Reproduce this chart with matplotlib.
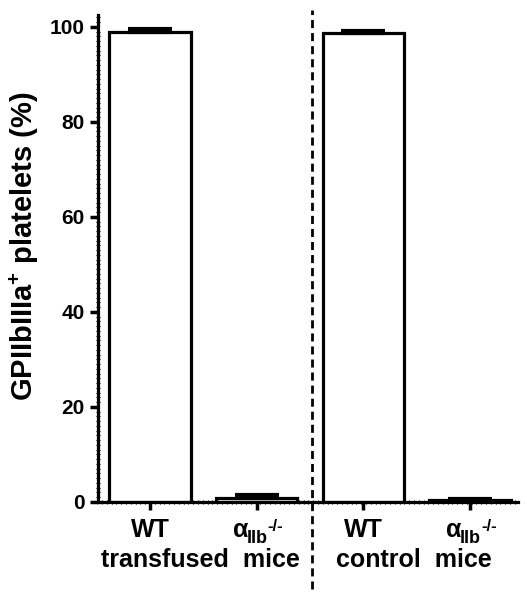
import matplotlib.pyplot as plt
from matplotlib.ticker import MultipleLocator

plt.rcParams['font.family'] = ['Liberation Sans', 'DejaVu Sans']
plt.rcParams['font.weight'] = 'bold'
plt.rcParams['mathtext.fontset'] = 'custom'
plt.rcParams['mathtext.rm'] = 'Liberation Sans:bold'
plt.rcParams['mathtext.it'] = 'Liberation Sans:bold'
plt.rcParams['mathtext.bf'] = 'Liberation Sans:bold'

groups = ['WT', 'α', 'WT', 'α']
group_sub = ['', 'IIb', '', 'IIb']
group_sup = ['', '-/-', '', '-/-']
second_line = ['transfused  mice', 'control  mice']
means = [98.9, 0.9, 98.7, 0.4]
sems = [0.6, 0.5, 0.4, 0.2]

fig = plt.figure(figsize=(5.27, 5.96), dpi=100)
ax = fig.add_axes([0.186, 0.158, 0.797, 0.817])

x = list(range(len(means)))
ax.bar(x, means, width=0.76, color='white', edgecolor='black', linewidth=2.3, zorder=2)
ax.errorbar(x, means, yerr=[[0] * len(sems), sems], fmt='none', ecolor='black',
            elinewidth=2.5, capsize=15.5, capthick=3, zorder=3)

ax.set_xlim(-0.487, 3.45)
ax.set_ylim(0, 102.5)
ax.set_yticks(range(0, 101, 20))
ax.set_xticks(x)
ax.set_xticklabels([])
ax.tick_params(axis='y', labelsize=15, width=2.5, length=6, direction='out')
ax.tick_params(axis='x', width=2.5, length=6, direction='out')
ax.yaxis.set_minor_locator(MultipleLocator(1))
ax.xaxis.set_minor_locator(MultipleLocator(0.045))
ax.tick_params(which='minor', length=2.5, width=0.8, direction='inout')
for lab in ax.get_yticklabels():
    lab.set_fontweight('bold')

for side in ['top', 'right']:
    ax.spines[side].set_visible(False)
for side in ['left', 'bottom']:
    ax.spines[side].set_linewidth(2.3)

fig.text(0.047, 0.587, r'GPIIbIIIa$^{+}$ platelets (%)', rotation=90, fontsize=21,
         fontweight='bold', ha='center', va='center')

# first line of category labels (offsets in points)
base = -25.2
xc = ('data', 'axes fraction')
for i, g in enumerate(groups):
    if not group_sub[i]:
        ax.annotate(g, xy=(i, 0), xycoords=xc, xytext=(0, base), textcoords='offset points',
                    ha='center', va='baseline', fontsize=18, fontweight='bold')
    else:
        ax.annotate(g, xy=(i, 0), xycoords=xc, xytext=(-17.3, base), textcoords='offset points',
                    ha='left', va='baseline', fontsize=18, fontweight='bold')
        ax.annotate(group_sub[i], xy=(i, 0), xycoords=xc, xytext=(-7.2, base - 4.3),
                    textcoords='offset points', ha='left', va='baseline', fontsize=13,
                    fontweight='bold')
        ax.annotate(group_sup[i], xy=(i, 0), xycoords=xc, xytext=(7.9, base + 4.3),
                    textcoords='offset points', ha='left', va='baseline', fontsize=12,
                    fontweight='bold')

for i, txt in enumerate(second_line):
    ax.annotate(txt, xy=(2 * i + 0.47, 0), xycoords=xc, xytext=(0, -46.8),
                textcoords='offset points', ha='center', va='baseline', fontsize=18,
                fontweight='bold')

ax.plot([1.52, 1.52], [-0.18, 1.01], transform=ax.get_xaxis_transform(), color='black',
        lw=2, ls=(0, (2.9, 1.8)), clip_on=False, zorder=4)

fig.savefig('out.png', dpi=100)
